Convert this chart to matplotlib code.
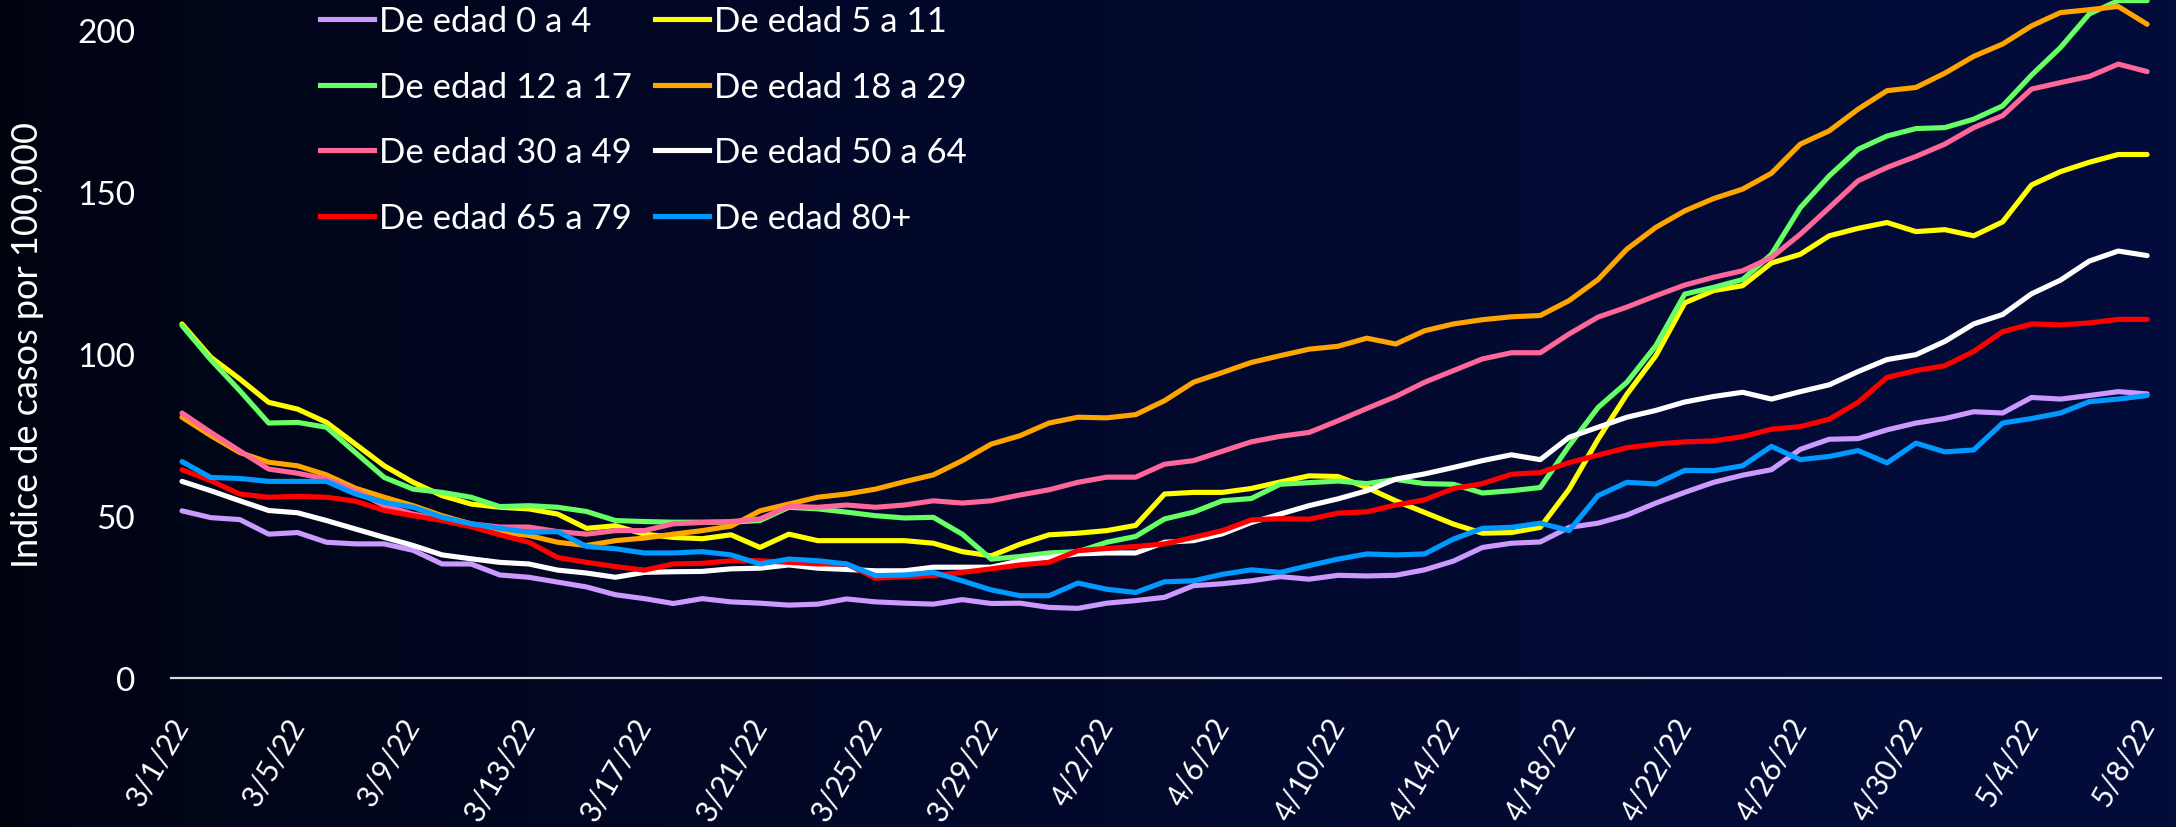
import numpy as np
import pandas as pd
import matplotlib
matplotlib.use("Agg")
import matplotlib.pyplot as plt
from matplotlib.lines import Line2D

plt.rcParams['font.family'] = ['Lato', 'DejaVu Sans']

# dates 3/1/22 .. 5/8/22 (daily)
dates = pd.date_range("2022-03-01", "2022-05-08", freq="D")
date_labels = [f"{d.month}/{d.day}/{d.strftime('%y')}" for d in dates]

series_names = [
    "De edad 0 a 4", "De edad 5 a 11", "De edad 12 a 17", "De edad 18 a 29",
    "De edad 30 a 49", "De edad 50 a 64", "De edad 65 a 79", "De edad 80+",
]
series_colors = ["#cc99ff", "#ffff00", "#66ff66", "#ffa500",
                 "#ff6699", "#ffffff", "#ff0000", "#0099ff"]

edad_0_4 = [
    51.6, 49.5, 48.9, 44.4, 44.9, 41.9, 41.4, 41.4, 39.4, 35.2, 35.2, 31.8, 31.1, 29.6, 28.1, 25.7, 24.5, 23.0, 24.5,
    23.5, 23.1, 22.5, 22.8, 24.4, 23.5, 23.1, 22.8, 24.2, 23.0, 23.1, 21.8, 21.5, 23.1, 23.9, 24.9, 28.5,
    29.1, 30.0, 31.3, 30.5, 31.7, 31.5, 31.7, 33.4, 36.1, 40.3, 41.6, 42.0, 46.5, 47.8, 50.3, 54.0, 57.3,
    60.4, 62.6, 64.3, 70.6, 73.7, 73.9, 76.6, 78.7, 80.1, 82.2, 81.8, 86.6, 86.1, 87.2, 88.4, 87.7,
]
edad_5_11 = [
    109.3, 99.0, 92.3, 85.1, 83.0, 78.9, 72.2, 65.5, 60.4, 56.3, 53.7, 52.7, 52.2, 50.6, 46.2, 47.0, 44.4, 43.4, 43.0,
    44.2, 40.3, 44.4, 42.4, 42.4, 42.4, 42.4, 41.6, 39.0, 37.7, 41.3, 44.2, 44.7, 45.5, 47.1, 56.8, 57.3,
    57.3, 58.5, 60.5, 62.4, 62.2, 58.8, 54.7, 51.1, 47.5, 44.7, 44.9, 46.5, 58.3, 73.7, 87.6, 99.5, 115.8,
    119.6, 121.1, 128.1, 130.8, 136.5, 138.8, 140.6, 137.8, 138.4, 136.5, 140.8, 152.2, 156.3, 159.2, 161.6, 161.6,
]
edad_12_17 = [
    108.8, 98.2, 88.7, 78.7, 78.9, 77.4, 69.6, 61.9, 58.3, 57.3, 55.8, 52.9, 53.2, 52.7, 51.4, 48.6, 48.3, 48.1, 48.1,
    48.1, 48.6, 52.7, 52.2, 51.2, 50.1, 49.4, 49.6, 44.4, 36.7, 37.5, 38.6, 39.0, 41.9, 43.7, 49.1, 51.2,
    54.7, 55.4, 59.8, 60.3, 60.8, 60.0, 61.3, 60.0, 59.8, 57.1, 57.8, 58.8, 71.7, 83.5, 91.3, 102.6, 118.5,
    120.6, 123.0, 130.8, 145.2, 155.0, 163.2, 167.3, 169.6, 169.9, 172.5, 176.6, 186.1, 194.6, 205.0, 209.1, 209.1,
]
edad_18_29 = [
    80.5, 74.8, 69.6, 66.6, 65.5, 62.7, 58.6, 55.8, 53.2, 50.1, 47.6, 45.0, 44.0, 41.9, 40.9, 42.4, 43.2, 44.4, 45.5,
    46.9, 51.6, 53.7, 55.8, 56.8, 58.3, 60.6, 62.7, 67.1, 72.2, 74.8, 78.7, 80.5, 80.3, 81.3, 85.6, 91.3,
    94.3, 97.4, 99.5, 101.5, 102.4, 104.9, 103.1, 107.2, 109.3, 110.6, 111.5, 111.9, 116.5, 123.0, 132.4, 139.1, 144.2,
    148.0, 150.9, 155.8, 164.8, 168.9, 175.6, 181.3, 182.3, 186.7, 191.9, 195.7, 201.3, 205.4, 206.3, 207.3, 201.8,
]
edad_30_49 = [
    81.8, 75.8, 70.1, 64.5, 63.2, 61.4, 57.8, 53.2, 50.6, 48.9, 47.6, 46.6, 46.6, 45.2, 44.4, 45.5, 45.5, 47.6, 48.0,
    48.3, 49.1, 53.0, 52.7, 53.4, 52.7, 53.4, 54.7, 54.0, 54.7, 56.5, 58.1, 60.4, 62.0, 62.0, 66.0, 67.1,
    70.0, 72.9, 74.6, 75.8, 79.4, 83.2, 86.9, 91.3, 94.9, 98.5, 100.4, 100.4, 106.2, 111.4, 114.5, 118.0, 121.3,
    123.7, 125.7, 129.8, 137.0, 145.2, 153.5, 157.6, 161.0, 164.8, 169.9, 173.6, 181.8, 183.8, 185.7, 189.5, 187.2,
]
edad_50_64 = [
    60.7, 57.8, 54.7, 51.7, 51.0, 48.6, 46.0, 43.4, 40.9, 38.0, 36.8, 35.7, 35.2, 33.3, 32.4, 31.1, 32.6, 32.8, 32.9,
    33.7, 33.9, 34.9, 33.9, 33.5, 33.1, 33.1, 34.2, 34.2, 34.2, 36.2, 37.2, 38.3, 38.6, 38.6, 41.9, 42.4,
    44.5, 48.0, 50.6, 53.2, 55.3, 57.8, 61.4, 63.0, 65.0, 67.1, 68.9, 67.4, 74.3, 77.4, 80.5, 82.6, 85.2,
    86.9, 88.2, 86.1, 88.4, 90.5, 94.6, 98.3, 99.8, 103.9, 109.3, 112.2, 118.6, 122.8, 128.7, 131.8, 130.4,
]
edad_65_79 = [
    64.3, 60.9, 56.8, 55.8, 56.1, 55.8, 54.6, 51.7, 50.1, 48.6, 46.7, 44.2, 41.9, 37.2, 35.7, 34.4, 33.3, 35.2, 35.4,
    36.2, 36.2, 35.7, 35.2, 35.2, 30.8, 31.3, 31.6, 32.6, 33.7, 34.9, 35.7, 39.3, 40.0, 40.6, 41.4, 43.4,
    45.5, 48.8, 49.2, 49.0, 50.9, 51.3, 53.4, 55.0, 58.5, 60.0, 62.9, 63.4, 66.5, 68.8, 71.1, 72.2, 72.9,
    73.2, 74.5, 76.8, 77.6, 79.9, 85.1, 92.8, 94.9, 96.4, 100.8, 106.9, 109.3, 109.0, 109.6, 110.7, 110.7,
]
edad_80_plus = [
    66.8, 61.9, 61.6, 60.7, 60.7, 60.7, 56.8, 54.2, 52.7, 49.6, 47.6, 46.2, 45.0, 45.2, 40.6, 39.9, 38.6, 38.6, 39.0,
    38.0, 35.2, 36.7, 36.2, 35.2, 31.6, 31.8, 32.6, 30.0, 27.2, 25.4, 25.4, 29.3, 27.4, 26.4, 29.7, 30.0,
    32.0, 33.4, 32.6, 34.7, 36.7, 38.3, 38.0, 38.3, 42.9, 46.2, 46.5, 47.8, 45.5, 56.3, 60.4, 59.9, 64.1,
    64.0, 65.5, 71.5, 67.4, 68.4, 70.2, 66.4, 72.5, 69.8, 70.4, 78.7, 80.1, 81.8, 85.3, 86.1, 87.2,
]

all_series = [edad_0_4, edad_5_11, edad_12_17, edad_18_29,
              edad_30_49, edad_50_64, edad_65_79, edad_80_plus]

W, H = 2176, 828
fig = plt.figure(figsize=(W / 100, H / 100), dpi=100)

# dark gradient background (black on the left -> navy on the right)
bg = fig.add_axes([0, 0, 1, 1], zorder=-10)
t = np.linspace(0, 1, 512) ** 0.6
c0 = np.array([0, 3, 13]) / 255
c1 = np.array([4, 12, 60]) / 255
grad = c0[None, :] * (1 - t[:, None]) + c1[None, :] * t[:, None]
bg.imshow(grad[None, :, :], aspect="auto", extent=[0, 1, 0, 1])
bg.axis("off")

ax = fig.add_axes([171 / W, 1 - 679 / H, (2161 - 171) / W, 679 / H])
ax.patch.set_alpha(0)

x = np.arange(len(dates))
for vals, name, col in zip(all_series, series_names, series_colors):
    ax.plot(x, vals, color=col, lw=3.7, label=name, solid_capstyle="round")

ax.set_xlim(-0.38, 68.48)
ax.set_ylim(0, 209.6)
ax.set_yticks([0, 50, 100, 150, 200])
ax.set_xticks(x[::4])
ax.set_xticklabels(date_labels[::4], rotation=60, ha="right", va="center",
                   rotation_mode="anchor")
ax.tick_params(axis="x", length=0, pad=30, labelsize=21.5, colors="white")
ax.tick_params(axis="y", length=0, pad=26, labelsize=24, colors="white")

for s in ["top", "right", "left"]:
    ax.spines[s].set_visible(False)
ax.spines["bottom"].set_color("#d9d9d9")
ax.spines["bottom"].set_linewidth(1.6)

ax.set_ylabel("Indice de casos por 100,000", color="white", fontsize=26)
ax.yaxis.set_label_coords((44 - 171) / (2161 - 171), 1 - 345 / 679)

# legend: two columns placed separately so each column starts where it should
col_x = [320, 655]
columns = [[0, 2, 4, 6], [1, 3, 5, 7]]
legends = []
for cx, idx in zip(col_x, columns):
    leg = ax.legend([Line2D([], [], color=series_colors[i], lw=3.7) for i in idx],
                    [series_names[i] for i in idx],
                    loc="upper left",
                    bbox_to_anchor=(cx / W, 1 - 6 / H), bbox_transform=fig.transFigure,
                    frameon=False, fontsize=25, handlelength=1.56, handletextpad=0.15,
                    labelspacing=0.97, borderpad=0, borderaxespad=0)
    for txt in leg.get_texts():
        txt.set_color("white")
    legends.append(leg)
ax.add_artist(legends[0])

fig.savefig("out.png", dpi=100, facecolor=fig.get_facecolor())
